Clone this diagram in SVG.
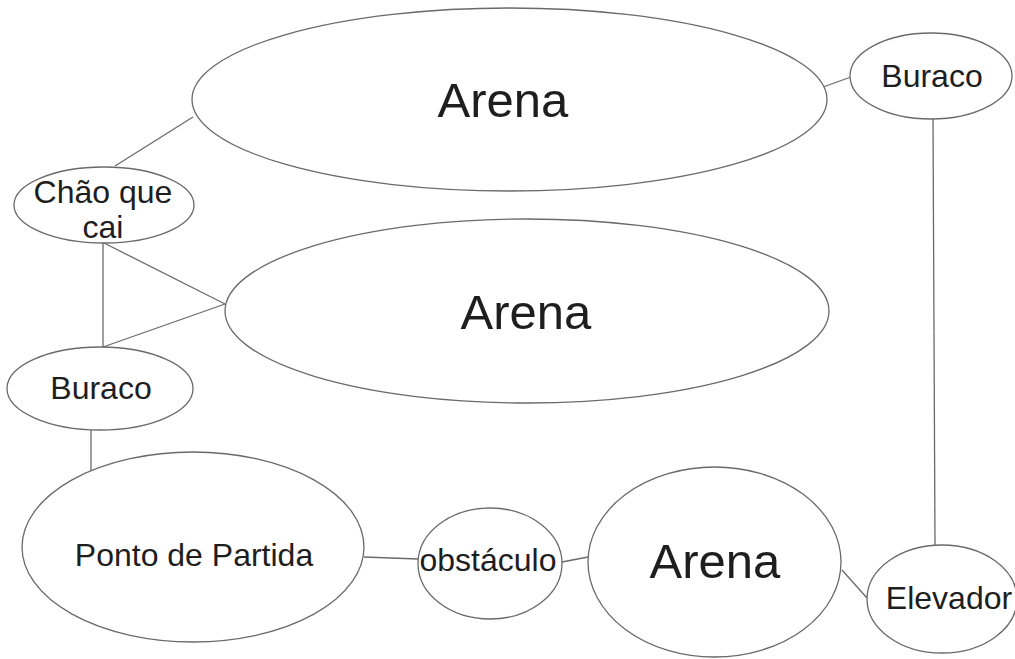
<svg xmlns="http://www.w3.org/2000/svg" width="1015" height="659" viewBox="0 0 1015 659">
<style>
.n{fill:#fff;stroke:#6a6a6a;stroke-width:1.3}
.c line{stroke:#6a6a6a;stroke-width:1.3}
text{font-family:"Liberation Sans",Arial,sans-serif;fill:#1e1e1e;text-anchor:middle}
.s{font-size:32px}
.b{font-size:49px}
</style>
<rect width="1015" height="659" fill="#fff"/>
<g class="c" id="connectors">
<line x1="193" y1="117" x2="115" y2="166"/>
<line x1="823" y1="87" x2="851" y2="77"/>
<line x1="933" y1="119" x2="935" y2="545"/>
<line x1="104" y1="243" x2="225" y2="304"/>
<line x1="103" y1="243" x2="103" y2="347"/>
<line x1="103" y1="347" x2="225" y2="304"/>
<line x1="91" y1="430" x2="91" y2="471"/>
<line x1="364" y1="557" x2="418" y2="559"/>
<line x1="562" y1="562" x2="588" y2="557"/>
<line x1="842" y1="570" x2="867" y2="598"/>
</g>
<g id="arena1"><ellipse class="n" cx="509.5" cy="99.5" rx="317.5" ry="91.5"/><text class="b" x="503" y="117">Arena</text></g>
<g id="buraco1"><ellipse class="n" cx="931" cy="76" rx="81" ry="43"/><text class="s" x="932" y="87">Buraco</text></g>
<g id="chao"><ellipse class="n" cx="104" cy="205" rx="90" ry="38"/><text class="s" x="103" y="203">Chão que</text><text class="s" x="103" y="238">cai</text></g>
<g id="arena2"><ellipse class="n" cx="527" cy="311" rx="302" ry="92"/><text class="b" x="526" y="329">Arena</text></g>
<g id="buraco2"><ellipse class="n" cx="100" cy="388.5" rx="93" ry="41.5"/><text class="s" x="101" y="399">Buraco</text></g>
<g id="ponto"><ellipse class="n" cx="193" cy="547" rx="171" ry="95"/><text class="s" x="194" y="566">Ponto de Partida</text></g>
<g id="obstaculo"><ellipse class="n" cx="490" cy="563.5" rx="72" ry="55.5"/><text class="s" x="488" y="571">obstáculo</text></g>
<g id="arena3"><ellipse class="n" cx="714.5" cy="562" rx="126.5" ry="95"/><text class="b" x="715" y="578">Arena</text></g>
<g id="elevador"><ellipse class="n" cx="942" cy="599" rx="75" ry="54"/><text class="s" x="949" y="609">Elevador</text></g>
</svg>
